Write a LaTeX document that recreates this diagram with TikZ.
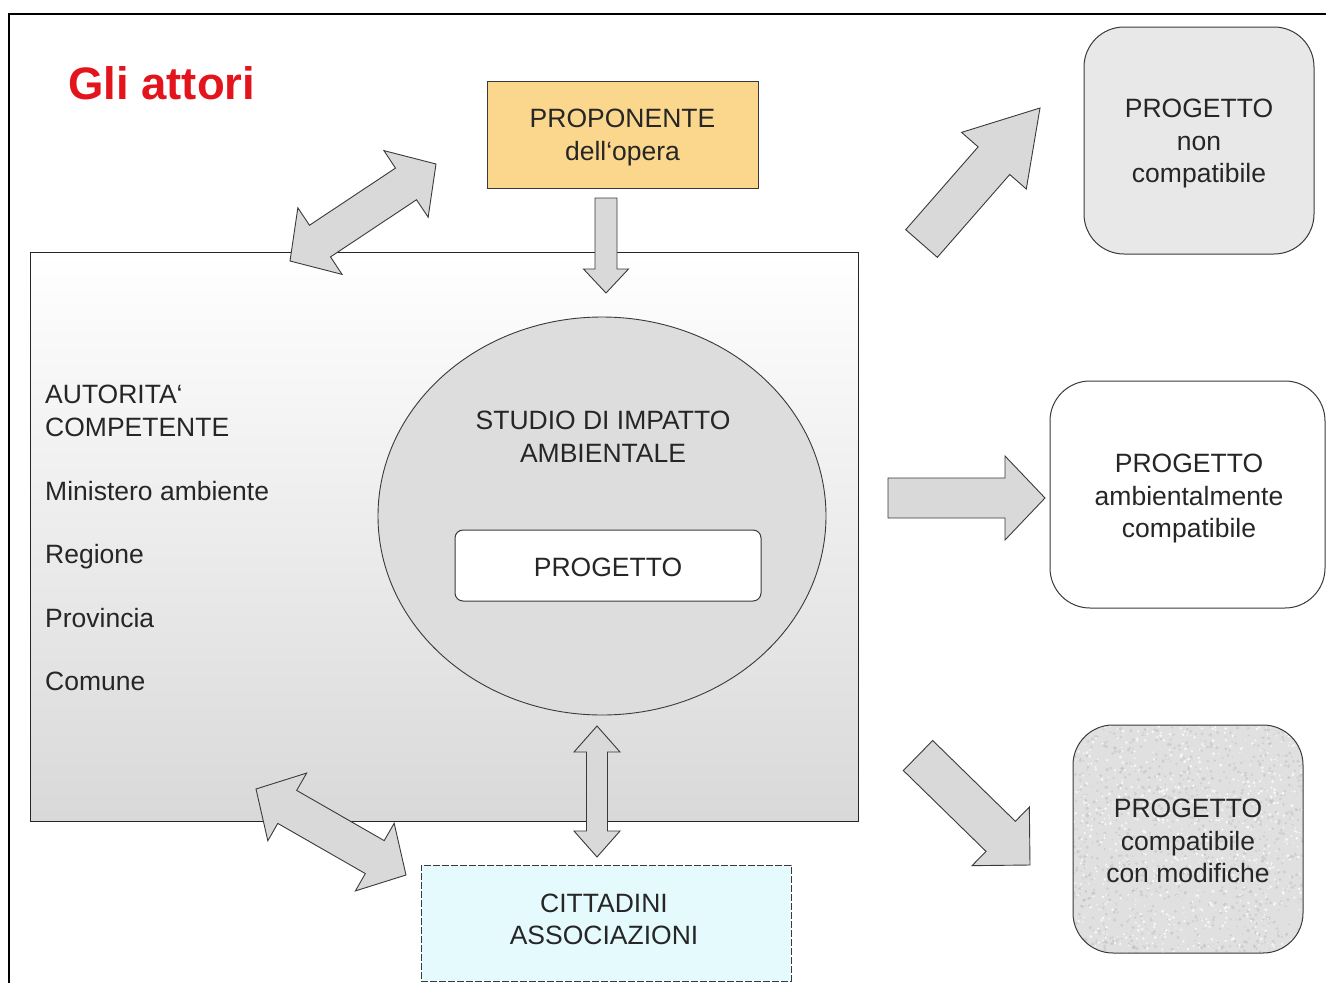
\documentclass[tikz,border=0pt]{standalone}
\usepackage{fontspec}
\setmainfont{Liberation Sans}
\usetikzlibrary{calc,shapes.geometric}

\definecolor{arrowfill}{HTML}{D9D9D9}
\definecolor{edgegray}{HTML}{3A3A3A}
\definecolor{propfill}{HTML}{FBD68D}
\definecolor{cittfill}{HTML}{E4FAFC}
\definecolor{titlered}{HTML}{E3141B}
\definecolor{inktext}{HTML}{262626}

\tikzset{
  txt/.style={font=\fontsize{26.5}{32.7}\selectfont, text=inktext, align=center},
  boxed/.style={draw=edgegray, line width=1pt, inner sep=0pt, rectangle},
  outcome/.style={boxed, rounded corners=40pt, minimum width=230pt, minimum height=227pt},
  blockarrow/.style={fill=arrowfill, draw=edgegray, line width=0.9pt, line join=miter},
}

% block arrow from #1 (tail) to #2 (tip): shaft half width, head half width, head length
\newcommand\singlearrow[5]{%
  \coordinate (ba-n) at ($(#2)!#5!(#1)$);
  \draw[blockarrow] ($(#1)!#3!90:(#2)$) -- ($(ba-n)!#3!90:(#2)$) -- ($(ba-n)!#4!90:(#2)$) -- (#2)
    -- ($(ba-n)!#4!-90:(#2)$) -- ($(ba-n)!#3!-90:(#2)$) -- ($(#1)!#3!-90:(#2)$) -- cycle;}

% two-headed block arrow between tips #1 and #2
\newcommand\doublearrow[5]{%
  \coordinate (ba-a) at ($(#1)!#5!(#2)$);
  \coordinate (ba-b) at ($(#2)!#5!(#1)$);
  \draw[blockarrow] (#1) -- ($(ba-a)!#4!90:(#2)$) -- ($(ba-a)!#3!90:(#2)$)
    -- ($(ba-b)!#3!-90:(#1)$) -- ($(ba-b)!#4!-90:(#1)$) -- (#2)
    -- ($(ba-b)!#4!90:(#1)$) -- ($(ba-b)!#3!90:(#1)$)
    -- ($(ba-a)!#3!-90:(#2)$) -- ($(ba-a)!#4!-90:(#2)$) -- cycle;}

\begin{document}
\begin{tikzpicture}[x=1pt, y=-1pt]
\pgfmathsetseed{12}
\useasboundingbox (0,0) rectangle (1326,983);
\fill[white] (0,0) rectangle (1326,983);

% page frame
\draw[line width=1.5pt, black] (9,983) -- (9,14) -- (1326,14);

% title
\node[anchor=base west, text=titlered, font=\fontsize{45.5}{50}\selectfont\bfseries, inner sep=0pt] (title) at (68,99) {Gli attori};

% competent authority area
\node[boxed, draw=black!85, minimum width=828pt, minimum height=569pt, top color=white, bottom color=gray!30] (auth) at (444,536.5) {};
\begin{scope}[every node/.style={txt, anchor=base west, inner sep=0pt, align=left}]
  \node (a1) at (45,436) {AUTORITA‘\\COMPETENTE};
  \node (a2) at (45,500) {Ministero ambiente};
  \node (a3) at (45,563) {Regione};
  \node (a4) at (45,627) {Provincia};
  \node (a5) at (45,690) {Comune};
\end{scope}

% environmental impact study
\node[ellipse, draw=edgegray, line width=0.9pt, fill=gray!27, minimum width=448pt, minimum height=398pt, inner sep=0pt] (sia) at (602,516) {};
\node[txt] (siatext) at (603,436.5) {STUDIO DI IMPATTO\\AMBIENTALE};
\node[boxed, fill=white, rounded corners=8pt, minimum width=306pt, minimum height=71pt] (prog) at (608,565.5) {};
\node[txt] (progtext) at ($(prog.center)+(0,2)$) {PROGETTO};

% proponent and citizens
\node[boxed, fill=propfill, minimum width=271pt, minimum height=107pt] (prop) at (622.5,134.5) {};
\node[txt] (proptext) at ($(prop.center)+(0,3)$) {PROPONENTE\\dell‘opera};
\node[boxed, fill=cittfill, dash pattern=on 7pt off 2pt, minimum width=370pt, minimum height=116pt] (citt) at (606,923) {};
\node[txt] (citttext) at ($(citt.center)+(-2,-3.5)$) {CITTADINI\\ASSOCIAZIONI};

% outcomes
\node[outcome, fill=gray!18] (nc) at (1199,140.5) {};
\node[txt] (nctext) at ($(nc.center)+(0,3)$) {PROGETTO\\non\\compatibile};
\node[outcome, fill=white, minimum width=275pt] (amb) at (1187.5,494.5) {};
\node[txt] (ambtext) at ($(amb.center)+(1.5,4)$) {PROGETTO\\ambientalmente\\compatibile};
\node[outcome, fill=gray!24, minimum height=228pt,
  path picture={
    \foreach \i in {1,...,1100}{
      \pgfmathsetmacro\px{rnd*232}
      \pgfmathsetmacro\py{rnd*230}
      \pgfmathsetmacro\pr{0.6+rnd*1.3}
      \fill[gray!50, opacity=0.5] ($(path picture bounding box.north west)+(\px,\py)$) circle (\pr pt);
    }
    \foreach \i in {1,...,800}{
      \pgfmathsetmacro\px{rnd*232}
      \pgfmathsetmacro\py{rnd*230}
      \pgfmathsetmacro\pr{0.6+rnd*1.0}
      \fill[white, opacity=0.75] ($(path picture bounding box.north west)+(\px,\py)$) circle (\pr pt);
    }
  }] (mod) at (1188,839) {};
\node[txt] (modtext) at ($(mod.center)+(0,2)$) {PROGETTO\\compatibile\\con modifiche};

% arrow end points
\coordinate (p1a) at (290,261);   \coordinate (p1b) at (436,164);
\coordinate (p2a) at (606,198);   \coordinate (p2b) at (606,293);
\coordinate (p3a) at (597,726);   \coordinate (p3b) at (597,857);
\coordinate (p4a) at (256,789);   \coordinate (p4b) at (406,875);
\coordinate (p5a) at (921.5,243.5); \coordinate (p5b) at (1040,108);
\coordinate (p6a) at (888,498);   \coordinate (p6b) at (1045,498);
\coordinate (p7a) at (918,755.5); \coordinate (p7b) at (1030,865);

\doublearrow{p1a}{p1b}{19pt}{40pt}{36pt}
\singlearrow{p2a}{p2b}{11pt}{22.5pt}{24pt}
\doublearrow{p3a}{p3b}{10.5pt}{23pt}{26pt}
\doublearrow{p4a}{p4b}{19pt}{39pt}{36pt}
\singlearrow{p5a}{p5b}{21pt}{43pt}{70pt}
\singlearrow{p6a}{p6b}{20pt}{42pt}{40pt}
\singlearrow{p7a}{p7b}{21pt}{41pt}{41pt}
\end{tikzpicture}
\end{document}
